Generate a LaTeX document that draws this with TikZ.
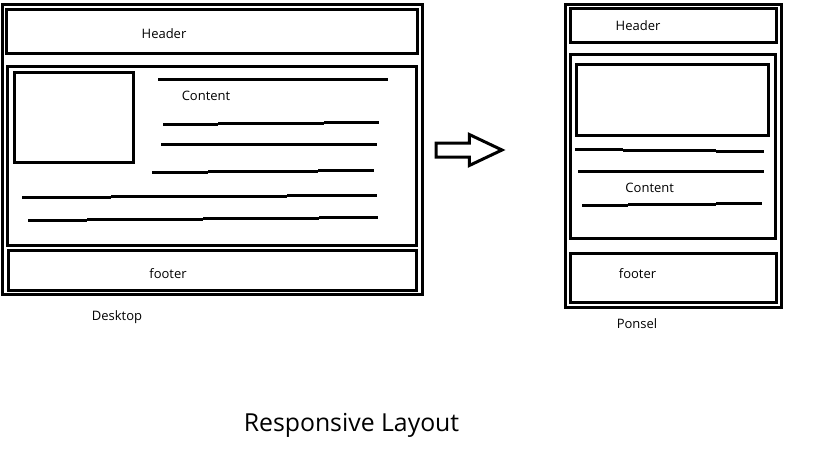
\documentclass[tikz,border=0pt]{standalone}
\usepackage{fontspec}
\setmainfont{Open Sans}
\begin{document}
\begin{tikzpicture}[x=1pt,y=-1pt,
  frame/.style={draw=black,line width=3pt},
  txtline/.style={draw=black,line width=3pt},
  lbl/.style={inner sep=0pt,anchor=base,font=\fontsize{13}{15}\selectfont,text=black},
  title/.style={inner sep=0pt,anchor=base,font=\fontsize{24.8}{28}\selectfont,text=black}]
\useasboundingbox[fill=white] (0,0) rectangle (819,460);
% ---------- Desktop ----------
\draw[frame] (2.5,4.5) rectangle (422.5,294);
\draw[frame] (6.5,9.5) rectangle (417,53.5);
\draw[frame] (7.5,66.5) rectangle (416,245);
\draw[frame] (14.5,72.5) rectangle (133.5,162);
\draw[frame] (8,250) rectangle (416.5,290);
\node[lbl] (dheader) at (164,38.3) {Header};
\node[lbl] (dcontent) at (206,100) {Content};
\node[lbl] (dfooter) at (168,278) {footer};
\node[lbl] (desktop) at (117,320.7) {Desktop};
\draw[txtline] (158,79) -- (388,79);
\draw[txtline] (163,124.3) -- (218,124.3) (218,123.3) -- (324,123.3) (324,122.3) -- (379,122.3);
\draw[txtline] (161,144) -- (377,144);
\draw[txtline] (152,172.3) -- (208,172.3) (208,171.3) -- (318,171.3) (318,170.3) -- (374,170.3);
\draw[txtline] (22,197.3) -- (111,197.3) (111,196.3) -- (287,196.3) (287,195) -- (377,195);
\draw[txtline] (28,220.3) -- (87,220.3) (87,219.3) -- (203,219.3) (203,218.3) -- (319,218.3) (319,217.3) -- (378,217.3);
% ---------- Arrow ----------
\draw[line width=3pt,line join=miter]
  (436,143) -- (469.3,143) -- (469.3,134.5) -- (502,150) -- (469.3,165.5) -- (469.3,157) -- (436,157) -- cycle;
% ---------- Phone ----------
\draw[frame] (565,4.2) rectangle (781.5,307.5);
\draw[frame] (570,8.2) rectangle (776.3,42.2);
\draw[frame] (570.8,54.8) rectangle (775.5,238.8);
\draw[frame] (576.5,64.8) rectangle (768.2,135.8);
\draw[frame] (570,253.2) rectangle (776.3,302.2);
\node[lbl] (pheader) at (638,31) {Header};
\node[lbl] (pcontent) at (649.7,192.3) {Content};
\node[lbl] (pfooter) at (637.5,278.3) {footer};
\node[lbl] (ponsel) at (637,328.3) {Ponsel};
\draw[txtline] (575,149) -- (623,149) (623,150.3) -- (716,150.3) (716,151.3) -- (764,151.3);
\draw[txtline] (578,171.3) -- (764,171.3);
\draw[txtline] (582,205.3) -- (628,205.3) (628,204.3) -- (716,204.3) (716,203) -- (762,203);
% ---------- Title ----------
\node[title] (ttl) at (351.5,431.7) {Responsive Layout};
\end{tikzpicture}
\end{document}
